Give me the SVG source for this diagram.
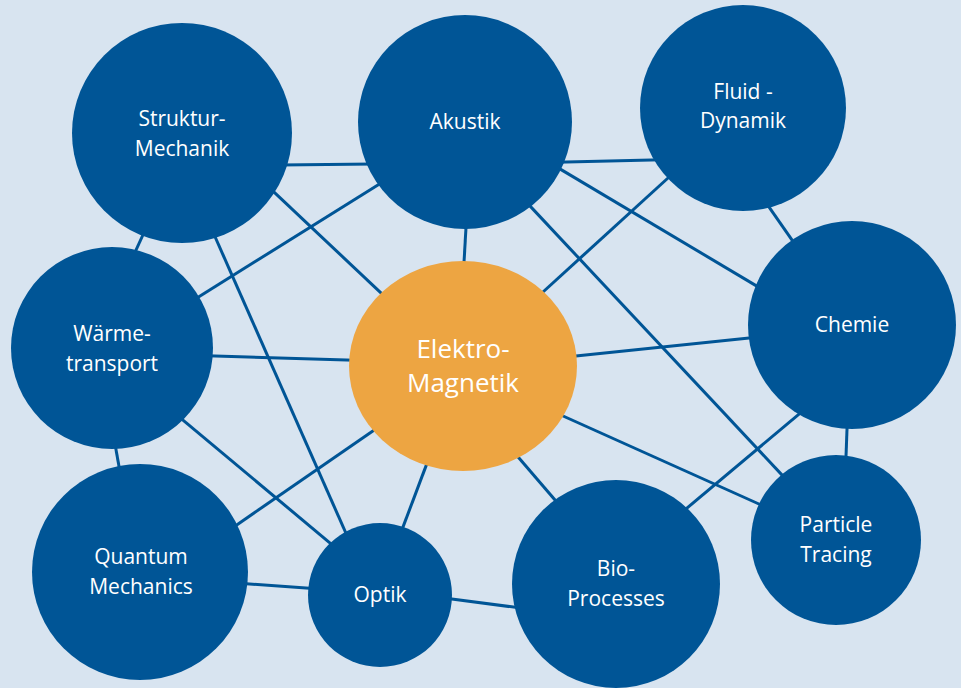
<svg xmlns="http://www.w3.org/2000/svg" width="961" height="688" viewBox="0 0 961 688">
  <style>
    .link { stroke: #005596; stroke-width: 3; stroke-linecap: butt; fill: none; }
    .node { fill: #005596; }
    .hub { fill: #EDA542; }
    .label { font-family: "Open Sans", "Liberation Sans", sans-serif; font-size: 21px; fill: #FFFFFF; text-anchor: middle; }
    .hub-label { font-family: "Open Sans", "Liberation Sans", sans-serif; font-size: 26px; fill: #FFFFFF; text-anchor: middle; }
  </style>

  <rect width="961" height="688" fill="#D8E4F0"/>

  <!-- connectors (drawn beneath the nodes) -->
  <g id="connectors">
    <line class="link" x1="280" y1="165" x2="374" y2="164"/>
    <line class="link" x1="144.5" y1="231.5" x2="133.5" y2="255.5"/>
    <line class="link" x1="270.6" y1="188.9" x2="385.4" y2="297.1"/>
    <line class="link" x1="213.6" y1="233.5" x2="347.4" y2="536.5"/>
    <line class="link" x1="383.1" y1="181.8" x2="194.9" y2="299.2"/>
    <line class="link" x1="466.3" y1="222" x2="463.7" y2="268"/>
    <line class="link" x1="556" y1="162.2" x2="662" y2="159.8"/>
    <line class="link" x1="554.8" y1="165.9" x2="760.2" y2="288.1"/>
    <line class="link" x1="525.9" y1="201.6" x2="786.1" y2="479.4"/>
    <line class="link" x1="672.4" y1="174" x2="538.6" y2="296"/>
    <line class="link" x1="765.6" y1="202.1" x2="795.4" y2="244.9"/>
    <line class="link" x1="571" y1="356.6" x2="754" y2="337.4"/>
    <line class="link" x1="207" y1="355.8" x2="355" y2="360.2"/>
    <line class="link" x1="115" y1="444" x2="120" y2="472"/>
    <line class="link" x1="179.4" y1="417.2" x2="334.6" y2="546.8"/>
    <line class="link" x1="377.9" y1="427.6" x2="233.1" y2="527.4"/>
    <line class="link" x1="428.1" y1="460.4" x2="400.9" y2="532.6"/>
    <line class="link" x1="243" y1="583.6" x2="313" y2="588.4"/>
    <line class="link" x1="446" y1="598.2" x2="519" y2="607.8"/>
    <line class="link" x1="515.1" y1="453.4" x2="558.9" y2="504.6"/>
    <line class="link" x1="557.5" y1="413.5" x2="764.5" y2="506.5"/>
    <line class="link" x1="802.6" y1="411.1" x2="682.4" y2="511.9"/>
    <line class="link" x1="847.2" y1="424" x2="845.8" y2="462"/>
  </g>

  <g id="struktur-mechanik">
    <circle class="node" cx="182" cy="133" r="110"/>
    <text class="label" x="182" y="126">Struktur-</text>
    <text class="label" x="182" y="156">Mechanik</text>
  </g>

  <g id="akustik">
    <circle class="node" cx="465" cy="122" r="107"/>
    <text class="label" x="465" y="129">Akustik</text>
  </g>

  <g id="fluid-dynamik">
    <circle class="node" cx="743" cy="108" r="103"/>
    <text class="label" x="743" y="99">Fluid -</text>
    <text class="label" x="743" y="128">Dynamik</text>
  </g>

  <g id="chemie">
    <circle class="node" cx="852" cy="325" r="104"/>
    <text class="label" x="852" y="332">Chemie</text>
  </g>

  <g id="waermetransport">
    <circle class="node" cx="112" cy="348" r="101"/>
    <text class="label" x="112" y="341">Wärme-</text>
    <text class="label" x="112" y="371">transport</text>
  </g>

  <g id="elektromagnetik">
    <ellipse class="hub" cx="463" cy="366" rx="114" ry="105"/>
    <text class="hub-label" x="463" y="358">Elektro-</text>
    <text class="hub-label" x="463" y="392">Magnetik</text>
  </g>

  <g id="quantum-mechanics">
    <circle class="node" cx="140" cy="572" r="108"/>
    <text class="label" x="141" y="564">Quantum</text>
    <text class="label" x="141" y="594">Mechanics</text>
  </g>

  <g id="optik">
    <circle class="node" cx="380" cy="595" r="72"/>
    <text class="label" x="380" y="602">Optik</text>
  </g>

  <g id="bio-processes">
    <circle class="node" cx="616" cy="584" r="104"/>
    <text class="label" x="616" y="576">Bio-</text>
    <text class="label" x="616" y="606">Processes</text>
  </g>

  <g id="particle-tracing">
    <circle class="node" cx="836" cy="540" r="85"/>
    <text class="label" x="836" y="532">Particle</text>
    <text class="label" x="836" y="562">Tracing</text>
  </g>
</svg>
